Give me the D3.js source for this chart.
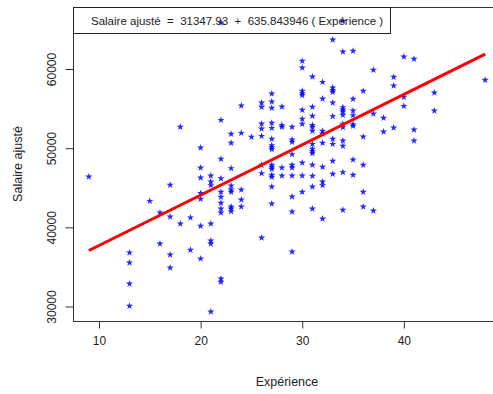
<!DOCTYPE html>
<html><head><meta charset="utf-8">
<script src="https://cdn.jsdelivr.net/npm/d3@7"></script>
<style>body{margin:0;background:#fff}svg{display:block;font-family:"Liberation Sans",Arial,sans-serif}</style>
</head><body><div id="c"></div>
<script>
// Experience (x) grouped per column, and Salaire ajusté (y)
const experience = [
 9,
 13,13,13,13,
 15,
 16,16,
 17,17,17,17,
 18,18,
 19,19,
 20,20,20,20,20,20,20,
 21,21,21,21,21,21,21,
 22,22,22,22,22,22,22,22,22,22,22,
 23,23,23,23,23,23,23,23,23,
 24,24,24,24,24,
 25,
 26,26,26,26,26,26,26,26,
 27,27,27,27,27,27,27,27,27,27,27,27,27,27,27,27,
 28,28,28,28,28,
 29,29,29,29,29,29,29,29,29,29,
 30,30,30,30,30,30,30,30,30,30,30,
 31,31,31,31,31,31,31,31,31,31,31,31,31,31,
 32,32,32,32,32,32,32,32,32,
 33,33,33,33,33,33,33,33,33,33,
 34,34,34,34,34,34,34,34,34,34,34,34,
 35,35,35,35,35,35,35,35,
 36,36,36,36,36,
 37,37,37,
 38,38,
 39,39,39,
 40,40,40,
 41,41,41,
 43,43,
 48
];
const salaire = [
 46390,
 36800,35530,32880,30060,
 43320,
 41850,37930,
 45350,41340,36540,34900,
 52670,40460,
 41220,37140,
 50060,47530,46270,44300,43580,40170,36040,
 46520,45760,45310,40460,38310,37930,29340,
 65840,53550,48630,46170,44460,43830,43070,42350,41850,33510,33090,
 51790,50650,47450,45260,44750,44460,42600,42350,42020,
 55360,51910,44750,43490,42600,
 51410,
 55740,55200,53090,52460,51530,47870,46820,38690,
 56880,55870,55070,53180,52540,51160,50360,50110,49850,47870,47620,47370,46610,46360,45130,42980,
 55230,52920,52670,47530,46520,
 52670,51070,50780,49220,47870,47530,46520,43870,41970,36920,
 61010,60160,57220,56930,56670,54820,53680,53050,48160,46520,44460,
 59020,55200,54060,52920,52670,52170,50520,49890,49600,49350,47870,46480,45130,42350,
 58350,56250,52170,51830,50650,47620,45760,45310,41090,
 63700,57630,57340,57090,55740,54020,51160,50520,48380,46740,
 66060,62180,55160,54860,54600,54190,53050,52630,50940,50270,46950,42190,
 62270,56210,54730,54150,53010,52800,48540,46610,
 57220,51450,47870,44460,42600,
 59870,54350,42100,
 53810,52080,
 58990,57890,52580,
 61550,56460,55320,
 61260,52330,50940,
 57000,54730,
 58610
];
const intercept = 31347.93;
const slope = 635.843946;
const xTicks = [10, 20, 30, 40];
const yTicks = [30000, 40000, 50000, 60000];
const legendText = "Salaire ajusté  =  31347.93  +  635.843946 ( Expérience )";
const xLabel = "Expérience";
const yLabel = "Salaire ajusté";

const W = 493, H = 394;
const L = 73, R = 501, T = 7, B = 321;
const svg = d3.select("#c").append("svg").attr("width", W).attr("height", H);

const x = d3.scaleLinear().domain([7.44, 49.56]).range([L, R]);
const y = d3.scaleLinear().domain([28168, 67832]).range([B, T]);

// points
const star = d3.symbol().type(d3.symbolStar).size(16);
svg.append("g").selectAll("path").data(experience.map((e, i) => [e, salaire[i]]))
  .join("path")
  .attr("transform", d => `translate(${x(d[0])},${y(d[1])})`)
  .attr("d", star)
  .attr("fill", "#0000ff").attr("fill-opacity", 0.85);

// regression line
const xmin = d3.min(experience), xmax = d3.max(experience);
svg.append("line")
  .attr("x1", x(xmin)).attr("y1", y(intercept + slope * xmin))
  .attr("x2", x(xmax)).attr("y2", y(intercept + slope * xmax))
  .attr("stroke", "#ff0000").attr("stroke-width", 3);

// box
svg.append("rect").attr("x", L + 0.5).attr("y", T + 0.5)
  .attr("width", R - L).attr("height", B - T)
  .attr("fill", "none").attr("stroke", "#333").attr("stroke-width", 1);

// x axis
const xa = svg.append("g").attr("transform", `translate(0,${B + 0.5})`)
  .call(d3.axisBottom(x).tickValues(xTicks).tickSize(7).tickPadding(8).tickFormat(d3.format("d")));
xa.select(".domain").remove();
xa.selectAll(".tick line").attr("stroke", "#333");
xa.selectAll("text").attr("font-size", 12).attr("fill", "#222").attr("font-family", "Liberation Sans, Arial, sans-serif");
svg.append("line").attr("x1", x(10)).attr("x2", x(40)).attr("y1", B + 0.5).attr("y2", B + 0.5).attr("stroke", "#333");

// y axis
const ya = svg.append("g").attr("transform", `translate(${L + 0.5},0)`)
  .call(d3.axisLeft(y).tickValues(yTicks).tickSize(8).tickFormat(d3.format("d")));
ya.select(".domain").remove();
ya.selectAll(".tick line").attr("stroke", "#333");
ya.selectAll("text").remove();
ya.selectAll(".tick").append("text")
  .attr("transform", "translate(-22,0) rotate(-90)")
  .attr("text-anchor", "middle").attr("dy", "0.35em")
  .attr("font-size", 12).attr("fill", "#222")
  .attr("font-family", "Liberation Sans, Arial, sans-serif")
  .text(d => d);

// axis titles
svg.append("text").attr("x", (L + R) / 2).attr("y", 386)
  .attr("text-anchor", "middle").attr("font-size", 12.5).attr("fill", "#222").text(xLabel);
svg.append("text").attr("transform", `translate(22,${(T + B) / 2}) rotate(-90)`)
  .attr("text-anchor", "middle").attr("font-size", 12.5).attr("fill", "#222").text(yLabel);

// legend
svg.append("rect").attr("x", L + 0.5).attr("y", T + 0.5).attr("width", 317).attr("height", 26)
  .attr("fill", "none").attr("stroke", "#222");
svg.append("text").attr("x", 91).attr("y", 25).attr("font-size", 11.5).attr("fill", "#222")
  .style("white-space", "pre").text(legendText);
</script></body></html>
